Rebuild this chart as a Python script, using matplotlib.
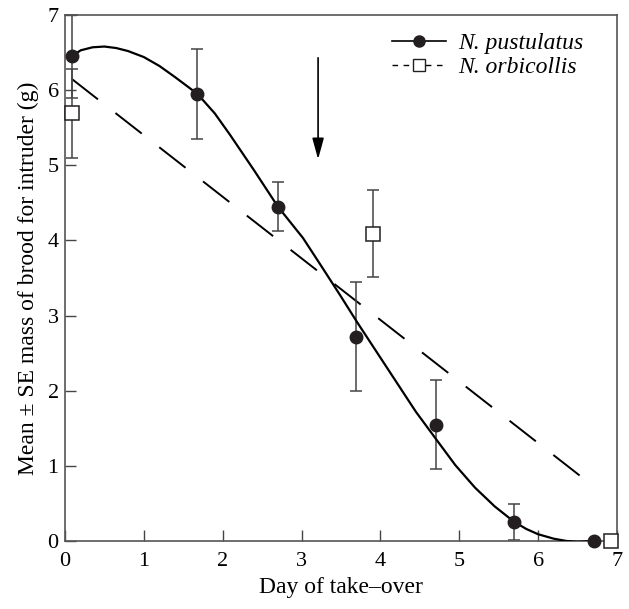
import matplotlib
matplotlib.use("Agg")
import matplotlib.pyplot as plt
from matplotlib.lines import Line2D

plt.rcParams['font.family'] = ['Liberation Serif', 'DejaVu Serif']
plt.rcParams['font.size'] = 16
plt.rcParams['lines.scale_dashes'] = False

# N. pustulatus means and SE
pus_day = [0.085, 1.68, 2.70, 3.69, 4.70, 5.69, 6.71]
pus_mass = [6.45, 5.95, 4.45, 2.72, 1.55, 0.25, 0.0]
pus_se = [0.55, 0.60, 0.33, 0.72, 0.59, 0.24, 0.0]

# N. orbicollis means and SE
orb_day = [0.085, 3.91, 6.92]
orb_mass = [5.69, 4.09, 0.0]
orb_se = [0.59, 0.58, 0.0]

# fitted curve for N. pustulatus
curve_day = [0.085, 0.2, 0.35, 0.5, 0.65, 0.8, 1.0, 1.2, 1.4, 1.68,
             1.9, 2.09, 2.40, 2.70, 3.02, 3.25, 3.49, 3.70, 3.95, 4.20,
             4.45, 4.71, 4.95, 5.20, 5.45, 5.69, 5.85, 6.00, 6.20, 6.36,
             6.50, 6.71]
curve_mass = [6.45, 6.53, 6.57, 6.58, 6.56, 6.52, 6.44, 6.32, 6.17, 5.95,
              5.69, 5.41, 4.93, 4.45, 4.03, 3.66, 3.27, 2.92, 2.52, 2.12,
              1.72, 1.35, 1.01, 0.71, 0.46, 0.26, 0.16, 0.09, 0.03, 0.0,
              -0.01, 0.0]

# linear fit for N. orbicollis (end points)
fit_day = [0.085, 6.59]
fit_mass = [6.15, 0.82]

# arrow position
arrow_day = 3.21
arrow_from, arrow_to = 6.43, 5.08

fig = plt.figure(figsize=(6.29, 6.09), dpi=100)
ax = fig.add_axes([0.1033, 0.1117, 0.8775, 0.8637])

ax.plot(fit_day, fit_mass, color='black', lw=1.4, linestyle=(0, (24, 16)), zorder=2)
ax.plot(curve_day, curve_mass, color='black', lw=1.6, zorder=3)

ax.errorbar(pus_day, pus_mass, yerr=pus_se, fmt='none', ecolor='#444444',
            elinewidth=1.1, capsize=4, capthick=1.1, zorder=2, clip_on=False)
ax.errorbar(orb_day, orb_mass, yerr=orb_se, fmt='none', ecolor='#444444',
            elinewidth=1.1, capsize=4, capthick=1.1, zorder=2, clip_on=False)
ax.plot(pus_day, pus_mass, 'o', color='#231f20', ms=9, zorder=5, clip_on=False)
ax.plot(orb_day, orb_mass, 's', mfc='white', mec='#231f20', mew=1.1, ms=9.5,
        zorder=5, clip_on=False)

ax.annotate('', xy=(arrow_day, arrow_to), xytext=(arrow_day, arrow_from),
            arrowprops=dict(arrowstyle='-|>,head_length=0.8,head_width=0.22',
                            color='black', lw=1.2, mutation_scale=16,
                            shrinkA=0, shrinkB=0))

ax.set_xlim(0, 7)
ax.set_ylim(0, 7)
ax.set_xticks(range(8))
ax.set_yticks(range(8))
ax.tick_params(direction='in', length=8, width=1, color='#444444',
               labelsize=16)
ax.tick_params(axis='x', pad=8)
ax.tick_params(axis='y', pad=4.5)
for s in ax.spines.values():
    s.set_color('#555555')
    s.set_linewidth(1.2)

ax.set_xlabel('Day of take\u2013over', fontsize=17, labelpad=4)
ax.set_ylabel('Mean \u00b1 SE mass of brood for intruder (g)', fontsize=17,
              labelpad=6)

h1 = Line2D([], [], color='black', lw=1.2, marker='o', ms=8, mfc='#231f20',
            mec='#231f20')
h2 = Line2D([], [], color='black', lw=1.0, linestyle=(0, (4, 4)), marker='s',
            ms=8, mfc='white', mec='#231f20')
ax.legend([h1, h2], ['N. pustulatus', 'N. orbicollis'], loc='upper left',
          bbox_to_anchor=(0.592, 0.966), frameon=False, borderpad=0,
          borderaxespad=0, handlelength=2.3, handletextpad=0.5,
          labelspacing=0.1, prop={'style': 'italic', 'size': 17})

fig.savefig('out.png', dpi=100)
